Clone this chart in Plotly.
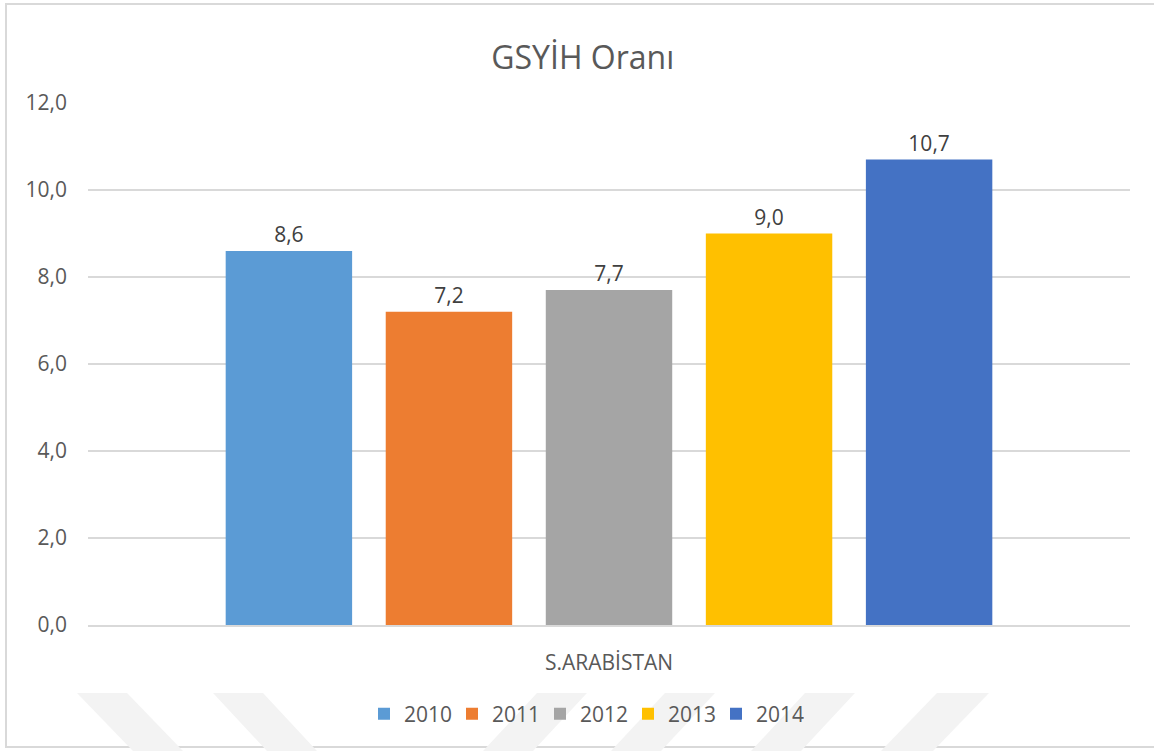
import plotly.graph_objects as go

# ---- data ----
categories = ["S.ARABİSTAN"]
years = ["2010", "2011", "2012", "2013", "2014"]
values_2010 = [8.6]
values_2011 = [7.2]
values_2012 = [7.7]
values_2013 = [9.0]
values_2014 = [10.7]
series_values = [values_2010, values_2011, values_2012, values_2013, values_2014]
y_tick_values = [0, 2, 4, 6, 8, 10, 12]

colors = ["#5B9BD5", "#ED7D31", "#A5A5A5", "#FFC000", "#4472C4"]
FONT = "Open Sans, Segoe UI, Noto Sans, sans-serif"

W, H = 1154, 751
ML, MR, MT, MB = 88, 24, 103, 126
PW, PH = W - ML - MR, H - MT - MB


def px(x):
    return (x - ML) / PW


def py(y):
    return (H - MB - y) / PH


fig = go.Figure()
for name, vals, col in zip(years, series_values, colors):
    fig.add_trace(go.Bar(
        x=categories, y=vals, name=name,
        marker=dict(color=col, line=dict(width=0)),
        texttemplate="%{y:.1f}", textposition="outside",
        textfont=dict(family=FONT, size=21, color="#404040"),
        cliponaxis=False,
    ))

shapes = []
# border of the chart area
shapes.append(dict(type="rect", xref="paper", yref="paper",
                   x0=px(6), x1=px(1157), y0=py(747), y1=py(4),
                   line=dict(color="#d9d9d9", width=2), fillcolor="rgba(0,0,0,0)",
                   layer="below"))
# faint watermark chevrons
wm = [
    [(77, 693), (127, 693), (183, 751), (133, 751)],
    [(213, 693), (263, 693), (317, 751), (267, 751)],
    [(537, 693), (587, 693), (533, 751), (483, 751)],
    [(665, 693), (715, 693), (661, 751), (611, 751)],
    [(805, 693), (855, 693), (801, 751), (751, 751)],
    [(937, 693), (989, 693), (933, 751), (881, 751)],
]
for poly in wm:
    path = "M " + " L ".join(f"{px(a):.5f},{py(b):.5f}" for a, b in poly) + " Z"
    shapes.append(dict(type="path", xref="paper", yref="paper", path=path,
                       fillcolor="#f3f3f3", line=dict(width=0), layer="below"))

fig.update_layout(
    width=W, height=H,
    margin=dict(l=ML, r=MR, t=MT, b=MB),
    paper_bgcolor="white", plot_bgcolor="rgba(0,0,0,0)",
    separators=",.",
    font=dict(family=FONT, color="#595959", size=21),
    title=dict(text="GSYİH Oranı", x=0.505, xanchor="center",
               y=1 - 58 / H, yanchor="middle", yref="container",
               font=dict(family=FONT, size=32, color="#595959")),
    barmode="group", bargap=0.232, bargroupgap=0.21,
    showlegend=True,
    legend=dict(orientation="h", x=px(584), xanchor="center",
                y=py(714), yanchor="middle", entrywidth=43,
                font=dict(family=FONT, size=21, color="#595959"),
                bgcolor="rgba(0,0,0,0)"),
    shapes=shapes,
)
fig.update_xaxes(showgrid=False, showline=True, linecolor="#d9d9d9", linewidth=2,
                 ticks="", ticklabelstandoff=18,
                 tickfont=dict(family=FONT, size=21, color="#595959"))
fig.update_yaxes(range=[0, 12], tickvals=y_tick_values, tickformat=".1f",
                 showgrid=True, gridcolor="#d9d9d9", gridwidth=1.5,
                 zeroline=False, showline=False, ticks="", ticklabelstandoff=20,
                 tickfont=dict(family=FONT, size=21, color="#595959"))

fig.write_html("out.html", config={"displayModeBar": False},
               post_script="document.body.style.margin='0';")
